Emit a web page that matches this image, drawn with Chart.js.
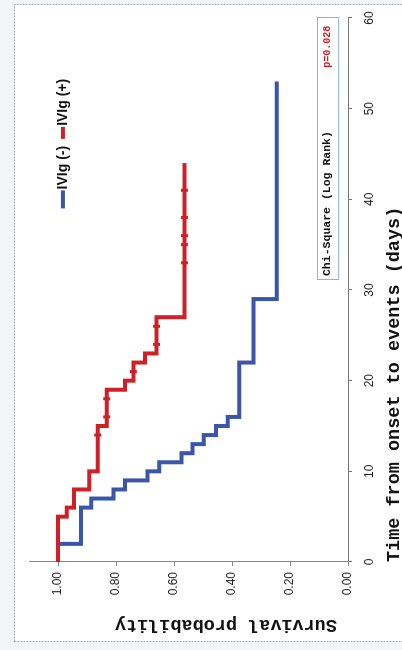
<!DOCTYPE html>
<html>
<head>
<meta charset="utf-8">
<script src="https://cdn.jsdelivr.net/npm/chart.js@4.4.0/dist/chart.umd.min.js"></script>
<style>
  html, body { margin:0; padding:0; width:402px; height:650px; overflow:hidden; background:#fff; }
  /* the figure is drawn in normal orientation, then turned a quarter turn to the left */
  #wrap { position:absolute; left:0; top:0; width:650px; height:410px;
          transform-origin:0 0; transform:translateY(650px) rotate(-90deg); }
</style>
</head>
<body>
<div id="wrap"><canvas id="km" width="650" height="410"></canvas></div>
<script>
// Kaplan-Meier steps
const seriesNames = ['IVIg (-)', 'IVIg (+)'];
const blueTimes = [0, 2, 6, 7, 8, 9, 10, 11, 12, 13, 14, 15, 16, 22, 29, 53];
const blueSurv  = [1.00, 0.921, 0.885, 0.809, 0.769, 0.691, 0.651, 0.574, 0.536, 0.497, 0.455, 0.415, 0.375, 0.326, 0.246, 0.246];
const redTimes  = [0, 5, 6, 8, 10, 15, 19, 20, 22, 23, 27, 44];
const redSurv   = [1.00, 0.970, 0.945, 0.892, 0.863, 0.832, 0.769, 0.740, 0.700, 0.660, 0.564, 0.564];
const redCensor = [14, 16, 18, 21, 24, 26, 33, 35, 36, 38, 41];
const timeTicks = [0, 10, 20, 30, 40, 50, 60];
const survTicks = [0, 0.2, 0.4, 0.6, 0.8, 1.0];
const testLabel = 'Chi-Square (Log Rank)';
const pLabel = 'p=0.028';

const BLUE = '#3b56a8', RED = '#cf2027';

function toPoints(times, surv) {
    return times.map((t, i) => ({x: t, y: surv[i]}));
}
// level of the step curve at time t
function levelAt(times, surv, t) {
    let v = surv[0];
    times.forEach((tt, i) => { if (tt <= t) v = surv[i]; });
    return v;
}

// frame, legend and the test box
const decor = {
    id: 'decor',
    beforeDraw(chart) {
        const c = chart.ctx;
        c.save();
        c.fillStyle = '#f2f6f8';
        c.fillRect(0, 0, chart.width, chart.height);
        c.fillStyle = '#fff';
        c.fillRect(8, 14, 637, 420);
        c.strokeStyle = '#a8a8a8';
        c.setLineDash([2, 1]);
        c.lineWidth = 1;
        c.strokeRect(8.5, 14.5, 637, 420);
        c.restore();
    },
    afterDraw(chart) {
        const c = chart.ctx, xs = chart.scales.x, ys = chart.scales.y;
        c.save();
        // legend
        c.font = 'bold 14px "Liberation Sans"';
        c.textBaseline = 'middle';
        let lx = xs.getPixelForValue(39), ly = ys.getPixelForValue(0.983);
        [[BLUE, 18], [RED, 12]].forEach(([col, len], i) => {
            c.strokeStyle = col; c.lineWidth = 4;
            c.beginPath(); c.moveTo(lx, ly); c.lineTo(lx + len, ly); c.stroke();
            lx += len + 1;
            c.fillStyle = '#111';
            c.fillText(seriesNames[i], lx, ly);
            lx += c.measureText(seriesNames[i]).width + 7;
        });
        // chi-square box
        const bx0 = xs.getPixelForValue(31.1), bx1 = xs.getPixelForValue(60);
        const by0 = ys.getPixelForValue(0.107), by1 = ys.getPixelForValue(0.034);
        c.strokeStyle = '#86b4da'; c.lineWidth = 1;
        c.strokeRect(Math.round(bx0) + 0.5, Math.round(by0) + 0.5, bx1 - bx0, by1 - by0);
        const ty = (by0 + by1) / 2;
        c.font = 'bold 11.5px "Liberation Mono"';
        c.fillStyle = '#111';
        c.fillText(testLabel, bx0 + 4, ty);
        c.font = 'bold 10px "Liberation Mono"';
        c.fillStyle = RED;
        c.fillText(pLabel, xs.getPixelForValue(54.5), ty);
        c.restore();
    }
};

const axisFont = {family: '"Liberation Sans", Arial, sans-serif', size: 12};
const titleFont = {family: '"Liberation Mono", "Courier New", monospace', size: 18.5, weight: 'bold'};

new Chart(document.getElementById('km'), {
    type: 'line',
    data: {
        datasets: [
            {label: seriesNames[0], data: toPoints(blueTimes, blueSurv), stepped: 'before',
             borderColor: BLUE, borderWidth: 4, pointRadius: 0, borderJoinStyle: 'miter', order: 1},
            {label: seriesNames[1], data: toPoints(redTimes, redSurv), stepped: 'before',
             borderColor: RED, borderWidth: 4, pointRadius: 0, borderJoinStyle: 'miter', order: 0},
            {label: 'censored', type: 'scatter',
             data: redCensor.map(t => ({x: t, y: levelAt(redTimes, redSurv, t)})),
             pointStyle: 'line', rotation: 90, pointRadius: 3.5, borderWidth: 3,
             borderColor: RED, backgroundColor: RED, order: -1}
        ]
    },
    options: {
        responsive: false,
        animation: false,
        layout: {padding: {left: 0, right: 18, top: 29, bottom: 0}},
        plugins: {legend: {display: false}, tooltip: {enabled: false}},
        scales: {
            x: {
                type: 'linear', min: 0, max: 60,
                afterBuildTicks: s => { s.ticks = timeTicks.map(v => ({value: v})); },
                afterFit: s => { s.height = 62; },
                grid: {drawOnChartArea: false, tickLength: 4, color: '#777'},
                border: {color: '#777'},
                ticks: {font: axisFont, color: '#222', padding: 10, maxRotation: 0},
                title: {display: true, text: 'Time from onset to events (days)', align: 'start',
                        font: titleFont, color: '#111', padding: {top: 0, bottom: 5}}
            },
            y: {
                type: 'linear', min: 0, max: 1.1,
                afterBuildTicks: s => { s.ticks = survTicks.map(v => ({value: v})); },
                afterFit: s => { s.width = 88; },
                grid: {drawOnChartArea: false, tickLength: 4, color: '#888'},
                border: {color: '#888', dash: [2, 2]},
                ticks: {font: axisFont, color: '#222', padding: 6, callback: v => v.toFixed(2)},
                title: {display: true, text: ' Survival probability', align: 'start',
                        font: titleFont, color: '#111', padding: {top: 14, bottom: 0}}
            }
        }
    },
    plugins: [decor]
});
</script>
</body>
</html>
